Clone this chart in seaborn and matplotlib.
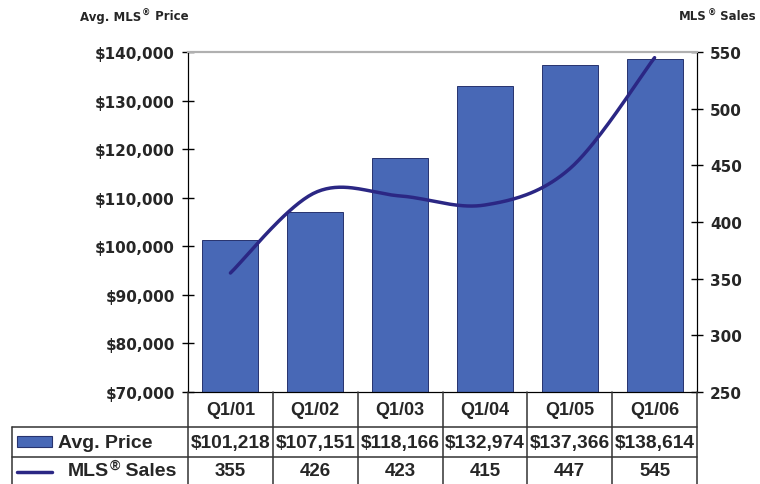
import numpy as np
import pandas as pd
import seaborn as sns
import matplotlib.pyplot as plt
from matplotlib.lines import Line2D
from matplotlib.patches import Rectangle
from matplotlib.transforms import offset_copy

quarters = ["Q1/01", "Q1/02", "Q1/03", "Q1/04", "Q1/05", "Q1/06"]
avg_price = [101218, 107151, 118166, 132974, 137366, 138614]
mls_sales = [355, 426, 423, 415, 447, 545]

bar_color = "#4868b6"
line_color = "#2b2784"

sns.set_style("white")
plt.rcParams["font.family"] = ["Liberation Sans", "DejaVu Sans"]

W, H = 760, 485
fig = plt.figure(figsize=(7.6, 4.85), dpi=100)
x0, x1, ytop, ybot = 188, 697, 53, 393
ax = fig.add_axes([x0 / W, 1 - ybot / H, (x1 - x0) / W, (ybot - ytop) / H])

df = pd.DataFrame({"Quarter": quarters, "Price": avg_price, "Sales": mls_sales})
sns.barplot(data=df, x="Quarter", y="Price", ax=ax, color=bar_color,
            width=0.66, edgecolor="#27336e", linewidth=0.7, saturation=1)
ax.set_ylim(70000, 140000)
ax.set_xlim(-0.5, 5.5)
ax.set_yticks(np.arange(70000, 140001, 10000))
ax.set_yticklabels([f"${v:,.0f}" for v in ax.get_yticks()],
                   fontfamily="DejaVu Sans", fontweight="bold", fontsize=11)
ax.set_xticks([])
ax.set_xlabel("")
ax.set_ylabel("")
ax.tick_params(axis="y", direction="inout", length=9, width=1, color="black", pad=5, left=True)

# smoothed sales line (Catmull-Rom style bezier through the data points)
ax2 = ax.twinx()
pts = np.column_stack([np.arange(len(mls_sales)), mls_sales]).astype(float)
ext = np.vstack([pts[0], pts, pts[-1]])
t = np.linspace(0, 1, 40)[:, None]
curve = []
for i in range(len(pts) - 1):
    p0, p1, p2, p3 = ext[i], ext[i + 1], ext[i + 2], ext[i + 3]
    c1 = p1 + (p2 - p0) / 6
    c2 = p2 - (p3 - p1) / 6
    seg = (1 - t) ** 3 * p1 + 3 * (1 - t) ** 2 * t * c1 + 3 * (1 - t) * t ** 2 * c2 + t ** 3 * p2
    curve.append(seg)
curve = np.vstack(curve)
sns.lineplot(x=curve[:, 0], y=curve[:, 1], ax=ax2, sort=False, estimator=None,
             color=line_color, linewidth=2.5)
ax2.set_ylim(250, 550)
ax2.set_yticks(np.arange(250, 551, 50))
ax2.set_yticklabels([str(v) for v in range(250, 551, 50)],
                    fontfamily="DejaVu Sans", fontweight="bold", fontsize=11)
ax2.tick_params(axis="y", direction="inout", length=9, width=1, color="black", pad=5, right=True)
ax2.set_xlim(-0.5, 5.5)

for a in (ax, ax2):
    for s in a.spines.values():
        s.set_visible(True)
        s.set_color("black")
    a.spines["top"].set_color("#b0b0b0")
    a.spines["top"].set_linewidth(1.5)

renderer = fig.canvas.get_renderer()


def sup_text(x, y, parts, size, ha="left", **kw):
    # text with a raised small ® after "MLS"
    base, tail = parts
    t1 = fig.text(x, y, base, fontsize=size, va="center", ha="left", **kw)
    w1 = t1.get_window_extent(renderer).width
    t2 = fig.text(x, y, "®", fontsize=size * 0.72, va="center", ha="left",
                  transform=offset_copy(fig.transFigure, fig=fig, x=w1 + 0.5, y=size * 0.45, units="dots"), **kw)
    w2 = t2.get_window_extent(renderer).width
    t3 = fig.text(x, y, tail, fontsize=size, va="center", ha="left",
                  transform=offset_copy(fig.transFigure, fig=fig, x=w1 + w2 + 1, y=0, units="dots"), **kw)
    if ha == "right":
        total = w1 + w2 + 1 + t3.get_window_extent(renderer).width
        for tt in (t1, t2, t3):
            tt.set_x(x - total / W)
    return t1


sup_text(80 / W, 1 - 17 / H, ("Avg. MLS", " Price"), 8.5, fontfamily="DejaVu Sans", fontweight="bold")
sup_text(756 / W, 1 - 17 / H, ("MLS", " Sales"), 8.5, ha="right", fontfamily="DejaVu Sans", fontweight="bold")


def fx(px):
    return px / W


def fy(py):
    return 1 - py / H


# data table below the chart
col_w = (x1 - x0) / len(quarters)
lk = dict(color="#333333", linewidth=1.1, transform=fig.transFigure)
for j in range(len(quarters) + 1):
    xc = x0 + j * col_w
    fig.add_artist(Line2D([fx(xc), fx(xc)], [fy(393), fy(490)], **lk))
fig.add_artist(Line2D([fx(12), fx(12)], [fy(428), fy(490)], **lk))
fig.add_artist(Line2D([fx(12), fx(x1)], [fy(428), fy(428)], **lk))
fig.add_artist(Line2D([fx(12), fx(x1)], [fy(458), fy(458)], **lk))

for j, q in enumerate(quarters):
    xc = x0 + (j + 0.5) * col_w
    fig.text(fx(xc), fy(411), q, ha="center", va="center", fontweight="bold", fontsize=13)
    fig.text(fx(xc), fy(443.5), f"${avg_price[j]:,}", ha="center", va="center",
             fontweight="bold", fontsize=13.8)
    fig.text(fx(xc), fy(472), str(mls_sales[j]), ha="center", va="center",
             fontweight="bold", fontsize=13.5)

fig.add_artist(Rectangle((fx(17), fy(448)), (52 - 17) / W, 11 / H, facecolor=bar_color,
                         edgecolor="#27336e", linewidth=0.8, transform=fig.transFigure))
fig.text(fx(58), fy(443.5), "Avg. Price", ha="left", va="center", fontweight="bold", fontsize=14)
fig.add_artist(Line2D([fx(17), fx(52)], [fy(473), fy(473)], color=line_color, linewidth=2.5,
                      transform=fig.transFigure))
sup_text(fx(68), fy(472), ("MLS", " Sales"), 14, fontweight="bold")

plt.savefig("out.png", dpi=100)
